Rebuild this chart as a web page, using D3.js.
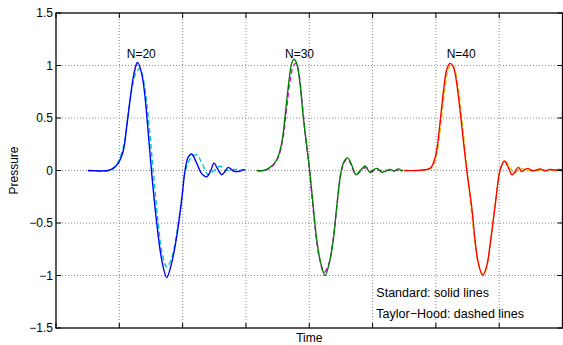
<!DOCTYPE html>
<html>
<head>
<meta charset="utf-8">
<script src="https://cdn.jsdelivr.net/npm/d3@7"></script>
<style>
  body { margin: 0; background: #fff; }
  text { font-family: "Liberation Sans", Arial, Helvetica, sans-serif; fill: #000; }
</style>
</head>
<body>
<div id="chart"></div>
<script>

// pressure traces, [time, pressure]
const n20Standard = [
    [0.505, 0], [0.821, 0], [0.900, 0.02], [0.984, 0.07], [1.063, 0.19], [1.117, 0.42],
    [1.169, 0.67], [1.221, 0.89], [1.275, 1.02], [1.290, 1.03], [1.354, 0.92], [1.406, 0.70],
    [1.458, 0.35], [1.512, -0.03], [1.591, -0.50], [1.670, -0.85], [1.749, -1.02], [1.827, -0.88],
    [1.906, -0.63], [1.985, -0.28], [2.038, 0.0], [2.090, 0.13], [2.143, 0.157], [2.222, 0.07],
    [2.301, -0.03], [2.380, -0.06], [2.448, 0.005], [2.496, 0.07], [2.548, 0.02], [2.617, -0.04],
    [2.669, -0.01], [2.721, 0.03], [2.800, -0.005], [2.879, -0.01], [2.985, 0.01]
];
const n20TaylorHood = [
    [0.505, 0], [0.853, 0], [0.932, 0.03], [1.011, 0.12], [1.090, 0.30], [1.145, 0.55],
    [1.200, 0.78], [1.264, 0.93], [1.327, 0.97], [1.382, 0.86], [1.437, 0.62], [1.493, 0.28],
    [1.548, -0.08], [1.611, -0.48], [1.674, -0.78], [1.753, -0.92], [1.832, -0.82], [1.911, -0.58],
    [1.990, -0.25], [2.045, 0.0], [2.132, 0.12], [2.219, 0.15], [2.306, 0.07], [2.401, -0.04],
    [2.496, 0.0], [2.590, 0.04], [2.701, 0.0], [2.812, 0.01], [2.985, 0.005]
];
const n30Standard = [
    [3.170, 0], [3.274, 0], [3.380, 0.03], [3.486, 0.10], [3.565, 0.26], [3.617, 0.51],
    [3.669, 0.80], [3.723, 1.02], [3.759, 1.06], [3.802, 1.02], [3.854, 0.83], [3.906, 0.51],
    [3.969, 0.195], [4.012, -0.03], [4.064, -0.35], [4.118, -0.66], [4.181, -0.88], [4.249, -1.00],
    [4.317, -0.88], [4.380, -0.66], [4.434, -0.345], [4.497, -0.03], [4.549, 0.085], [4.607, 0.12],
    [4.671, 0.05], [4.739, -0.04], [4.813, 0.005], [4.881, 0.043], [4.960, -0.02], [5.023, 0.01],
    [5.075, 0.02], [5.144, -0.017], [5.223, 0], [5.276, 0.01], [5.339, -0.005], [5.407, 0.015],
    [5.460, -0.002], [5.481, 0.005]
];
const n30TaylorHood = [
    [3.170, 0], [3.285, 0], [3.396, 0.03], [3.506, 0.12], [3.586, 0.31], [3.641, 0.58],
    [3.696, 0.85], [3.751, 1.00], [3.791, 1.02], [3.838, 0.92], [3.886, 0.66], [3.941, 0.32],
    [3.996, 0.04], [4.043, -0.25], [4.099, -0.58], [4.162, -0.84], [4.233, -0.97], [4.304, -0.90],
    [4.367, -0.70], [4.423, -0.42], [4.478, -0.12], [4.533, 0.05], [4.596, 0.11], [4.652, 0.07],
    [4.715, -0.02], [4.770, -0.03], [4.841, 0.02], [4.904, 0.025], [4.975, -0.01], [5.054, 0.005],
    [5.149, 0], [5.481, 0]
];
const n40Standard = [
    [5.497, 0], [5.907, 0.02], [5.960, 0.07], [6.013, 0.195], [6.065, 0.45], [6.117, 0.74],
    [6.171, 0.96], [6.223, 1.02], [6.275, 0.99], [6.329, 0.83], [6.381, 0.576], [6.433, 0.29],
    [6.487, 0.005], [6.566, -0.345], [6.618, -0.66], [6.670, -0.88], [6.740, -1.00], [6.803, -0.91],
    [6.866, -0.66], [6.934, -0.345], [7.002, -0.027], [7.040, 0.05], [7.081, 0.09], [7.128, 0.05],
    [7.171, -0.01], [7.203, -0.043], [7.250, -0.01], [7.302, 0.03], [7.356, -0.01], [7.408, 0.01],
    [7.460, 0.02], [7.514, -0.002], [7.593, 0.005], [7.645, 0.014], [7.724, -0.002], [7.803, 0.01],
    [7.882, 0.005], [7.961, 0.01], [7.993, 0.005]
];
const n40TaylorHood = [
    [5.497, 0], [5.923, 0.02], [5.978, 0.08], [6.034, 0.22], [6.089, 0.50], [6.144, 0.78],
    [6.200, 0.97], [6.247, 1.01], [6.302, 0.95], [6.358, 0.77], [6.413, 0.48], [6.468, 0.16],
    [6.523, -0.17], [6.579, -0.48], [6.634, -0.75], [6.689, -0.93], [6.752, -0.99], [6.816, -0.88],
    [6.879, -0.62], [6.942, -0.30], [7.013, 0.0], [7.068, 0.07], [7.116, 0.08], [7.171, 0.03],
    [7.234, -0.03], [7.297, 0.005], [7.352, 0.02], [7.424, 0.0], [7.518, 0.005], [7.645, 0.0],
    [7.993, 0.0]
];

const yTicks = [-1.5, -1, -0.5, 0, 0.5, 1, 1.5];
const xTicks = [0, 1, 2, 3, 4, 5, 6, 7, 8];

// text annotations (time, pressure of the text start)
const peakLabels = ["N=20", "N=30", "N=40"];
const peakLabelTimes = [1.117, 3.617, 6.171];
const peakLabelPressure = 1.07;
const noteLines = ["Standard: solid lines", "Taylor\u2212Hood: dashed lines"];
const noteTime = 5.06;
const notePressures = [-1.20, -1.405];

// dashed (Taylor-Hood) drawn first, solid (standard) on top
const traces = [
    { data: n20TaylorHood, color: "#00c8c8", dash: "5,3" },
    { data: n30TaylorHood, color: "#f000f0", dash: "5,3" },
    { data: n40TaylorHood, color: "#cccc00", dash: "5,3" },
    { data: n20Standard, color: "#0000ff", dash: null },
    { data: n30Standard, color: "#008000", dash: null },
    { data: n40Standard, color: "#ff0000", dash: null }
];

const margin = { top: 13, right: 0.5, bottom: 17, left: 56 };
const totalW = 563, totalH = 345;
const width = totalW - margin.left - margin.right;
const height = totalH - margin.top - margin.bottom;

const svg = d3.select("#chart").append("svg")
    .attr("width", totalW)
    .attr("height", totalH);

const g = svg.append("g")
    .attr("transform", "translate(" + margin.left + "," + margin.top + ")");

const x = d3.scaleLinear().domain([0, 8]).range([0, width]);
const y = d3.scaleLinear().domain([-1.5, 1.5]).range([height, 0]);

// dotted grid
g.append("g").selectAll("line")
    .data(xTicks.slice(1, -1))
    .join("line")
    .attr("x1", d => x(d)).attr("x2", d => x(d))
    .attr("y1", 0).attr("y2", height)
    .style("stroke", "#8a8a8a")
    .style("stroke-width", 1)
    .style("stroke-dasharray", "1,2");

g.append("g").selectAll("line")
    .data(yTicks.slice(1, -1))
    .join("line")
    .attr("x1", 0).attr("x2", width)
    .attr("y1", d => y(d)).attr("y2", d => y(d))
    .style("stroke", "#8a8a8a")
    .style("stroke-width", 1)
    .style("stroke-dasharray", "1,2");

g.append("clipPath").attr("id", "plotClip")
    .append("rect").attr("width", width).attr("height", height);

const line = d3.line()
    .x(d => x(d[0]))
    .y(d => y(d[1]))
    .curve(d3.curveCatmullRom.alpha(0.5));

g.append("g").attr("clip-path", "url(#plotClip)")
    .selectAll("path")
    .data(traces)
    .join("path")
    .attr("d", d => line(d.data))
    .style("fill", "none")
    .style("stroke", d => d.color)
    .style("stroke-width", 1.4)
    .style("stroke-dasharray", d => d.dash);

// box and inward ticks
g.append("rect")
    .attr("width", width).attr("height", height)
    .style("fill", "none")
    .style("stroke", "#000")
    .style("stroke-width", 1.3);

const tickLen = 5;
g.append("g").selectAll("line")
    .data(yTicks)
    .join("line")
    .attr("x1", 0).attr("x2", tickLen)
    .attr("y1", d => y(d)).attr("y2", d => y(d))
    .style("stroke", "#000");
g.append("g").selectAll("line")
    .data(yTicks)
    .join("line")
    .attr("x1", width).attr("x2", width - tickLen)
    .attr("y1", d => y(d)).attr("y2", d => y(d))
    .style("stroke", "#000");
g.append("g").selectAll("line")
    .data(xTicks)
    .join("line")
    .attr("x1", d => x(d)).attr("x2", d => x(d))
    .attr("y1", height).attr("y2", height - tickLen)
    .style("stroke", "#000");
g.append("g").selectAll("line")
    .data(xTicks)
    .join("line")
    .attr("x1", d => x(d)).attr("x2", d => x(d))
    .attr("y1", 0).attr("y2", tickLen)
    .style("stroke", "#000");

// y tick labels
const fmt = d3.format("");
g.append("g").selectAll("text")
    .data(yTicks)
    .join("text")
    .attr("x", -3)
    .attr("y", d => y(d))
    .attr("dy", "0.35em")
    .attr("text-anchor", "end")
    .style("font-size", "12px")
    .text(d => fmt(d));

// axis labels
g.append("text")
    .attr("transform", "translate(" + (-38) + "," + (height / 2) + ") rotate(-90)")
    .attr("text-anchor", "middle")
    .style("font-size", "12px")
    .text("Pressure");

g.append("text")
    .attr("x", width / 2)
    .attr("y", height + 14)
    .attr("text-anchor", "middle")
    .style("font-size", "12px")
    .text("Time");

// annotations
g.append("g").selectAll("text")
    .data(peakLabels)
    .join("text")
    .attr("x", (d, i) => x(peakLabelTimes[i]))
    .attr("y", y(peakLabelPressure))
    .style("font-size", "12px")
    .text(d => d);

g.append("g").selectAll("text")
    .data(noteLines)
    .join("text")
    .attr("x", x(noteTime))
    .attr("y", (d, i) => y(notePressures[i]))
    .style("font-size", "12.5px")
    .text(d => d);

</script>
</body>
</html>
